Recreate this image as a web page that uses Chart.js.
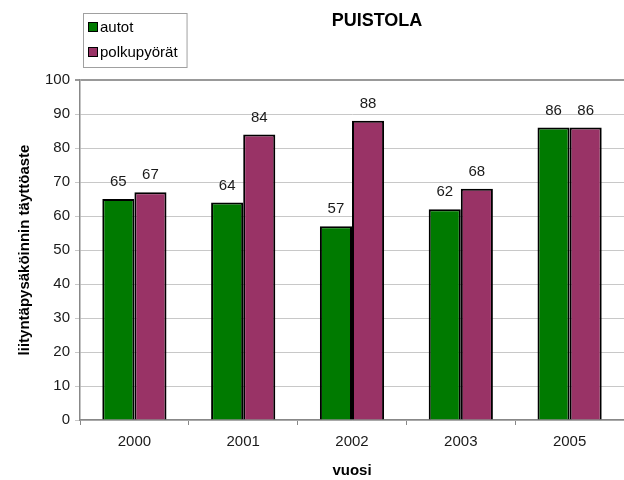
<!DOCTYPE html>
<html>
<head>
<meta charset="utf-8">
<script src="https://cdn.jsdelivr.net/npm/chart.js@4/dist/chart.umd.min.js"></script>
<style>
  html, body { margin: 0; padding: 0; background: #fff; }
  #wrap { width: 624px; height: 480px; }
</style>
</head>
<body>
<div id="wrap"><canvas id="myChart" width="624" height="480"></canvas></div>
<script>
Chart.defaults.font.family = '"Liberation Sans", Arial, sans-serif';
Chart.defaults.font.size = 15;
Chart.defaults.color = '#1a1a1a';

var vuodet = ['2000', '2001', '2002', '2003', '2005'];
var autot = [65, 64, 57, 62, 86];
var polkupyorat = [67, 84, 88, 68, 86];
var yTicks = [0, 10, 20, 30, 40, 50, 60, 70, 80, 90, 100];

// otsikko ja selite piirretään itse, jotta ne saa oikeisiin kohtiin
var otsikkoJaSelite = {
  id: 'otsikkoJaSelite',
  afterDraw: function (chart) {
    var c = chart.ctx;
    c.save();
    c.fillStyle = '#000';
    c.font = 'bold 18px "Liberation Sans", Arial, sans-serif';
    c.textAlign = 'center';
    c.textBaseline = 'middle';
    c.fillText('PUISTOLA', 377, 21);

    c.font = '15px "Liberation Sans", Arial, sans-serif';
    var sets = chart.data.datasets;
    var w = 0;
    sets.forEach(function (ds) { w = Math.max(w, c.measureText(ds.label).width); });
    var bx = 83, by = 13, bh = 54, bw = 19 + w + 7;
    c.fillStyle = '#fff';
    c.fillRect(bx, by, bw, bh);
    c.strokeStyle = '#a0a0a0';
    c.lineWidth = 1;
    c.strokeRect(bx + 0.5, by + 0.5, bw, bh);
    c.textAlign = 'left';
    sets.forEach(function (ds, i) {
      var cy = by + 14 + i * 25;
      c.fillStyle = ds.backgroundColor;
      c.fillRect(bx + 5, cy - 5, 10, 10);
      c.strokeStyle = '#000';
      c.strokeRect(bx + 5.5, cy - 4.5, 9, 9);
      c.fillStyle = '#000';
      c.fillText(ds.label, bx + 17, cy + 1);
    });
    c.restore();
  }
};

// arvot pylväiden yläpuolelle
var arvot = {
  id: 'arvot',
  afterDatasetsDraw: function (chart) {
    var c = chart.ctx;
    c.save();
    c.font = '15px "Liberation Sans", Arial, sans-serif';
    c.fillStyle = '#1a1a1a';
    c.textAlign = 'center';
    c.textBaseline = 'middle';
    chart.data.datasets.forEach(function (ds, i) {
      chart.getDatasetMeta(i).data.forEach(function (bar, j) {
        c.fillText(ds.data[j], bar.x, bar.y - 17);
      });
    });
    c.restore();
  }
};

var ctx = document.getElementById('myChart');

var myChart = new Chart(ctx, {
  type: 'bar',
  data: {
    labels: vuodet,
    datasets: [{
      label: 'autot',
      data: autot,
      backgroundColor: '#007a00',
      borderColor: '#000',
      borderWidth: 2,
      borderSkipped: 'bottom'
    }, {
      label: 'polkupyörät',
      data: polkupyorat,
      backgroundColor: '#993366',
      borderColor: '#000',
      borderWidth: 2,
      borderSkipped: 'bottom'
    }]
  },
  options: {
    responsive: false,
    animation: false,
    layout: { padding: { top: 80, right: 0, bottom: 0, left: 0 } },
    datasets: { bar: { barPercentage: 1, categoryPercentage: 0.59 } },
    plugins: {
      legend: { display: false },
      title: { display: false },
      tooltip: { enabled: false }
    },
    scales: {
      x: {
        afterFit: function (s) { s.height = 60; },
        grid: {
          display: true,
          drawOnChartArea: false,
          offset: true,
          tickLength: 5,
          color: '#888'
        },
        border: { color: '#888', width: 1.5 },
        ticks: { padding: 8, color: '#1a1a1a' },
        title: {
          display: true,
          text: 'vuosi',
          font: { weight: 'bold', size: 15 },
          color: '#000',
          padding: { top: 0, bottom: 0 }
        }
      },
      y: {
        min: 0,
        max: 100,
        afterFit: function (s) { s.width = 80; },
        afterBuildTicks: function (s) {
          s.ticks = yTicks.map(function (v) { return { value: v }; });
        },
        grid: {
          color: function (g) { return g.tick.value === 100 ? '#999' : '#c8c8c8'; },
          lineWidth: function (g) { return g.tick.value === 100 ? 2 : 1; },
          tickLength: 5
        },
        border: { color: '#888', width: 1.5 },
        ticks: { padding: 5, color: '#1a1a1a' },
        title: {
          display: true,
          text: 'liityntäpysäköinnin täyttöaste',
          font: { weight: 'bold', size: 15 },
          color: '#000',
          padding: { top: 16, bottom: 0 }
        }
      }
    }
  },
  plugins: [arvot, otsikkoJaSelite]
});
</script>
</body>
</html>
